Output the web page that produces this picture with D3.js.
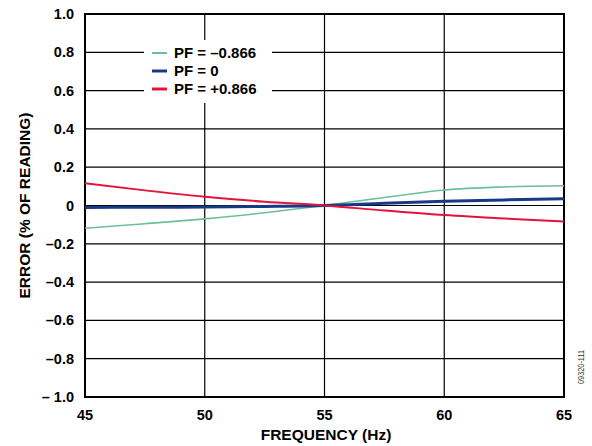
<!DOCTYPE html>
<html><head><meta charset="utf-8">
<script src="https://cdn.jsdelivr.net/npm/d3@7"></script>
<style>body{margin:0;background:#fff}svg{display:block}text{font-family:"Liberation Sans",Arial,sans-serif}</style>
</head><body><svg id="c" width="592" height="446"></svg>
<script>
const freq = [45, 47.5, 50, 52.5, 55, 57.5, 60, 62.5, 65];
const pfNeg = [-0.119, -0.095, -0.07, -0.038, 0, 0.042, 0.081, 0.097, 0.103];
const pfZero = [-0.01, -0.009, -0.008, -0.005, 0, 0.012, 0.022, 0.029, 0.035];
const pfPos = [0.116, 0.079, 0.046, 0.02, 0, -0.026, -0.05, -0.068, -0.083];
const yTicks = [1.0, 0.8, 0.6, 0.4, 0.2, 0, -0.2, -0.4, -0.6, -0.8, -1.0];
const yLabels = ["1.0","0.8","0.6","0.4","0.2","0","–0.2","–0.4","–0.6","–0.8","– 1.0"];
const xTicks = [45, 50, 55, 60, 65];
const series = [
  {name:"PF = –0.866", values:pfNeg, color:"#6cbf98", w:1.6},
  {name:"PF = 0", values:pfZero, color:"#173a86", w:3},
  {name:"PF = +0.866", values:pfPos, color:"#e2143c", w:2}
];
const svg = d3.select("#c");
const L=85, R=564, T=14, B=397;
const x = d3.scaleLinear().domain([45,65]).range([L,R]);
const y = d3.scaleLinear().domain([-1,1]).range([B,T]);
const g = svg.append("g");
g.selectAll(".hg").data(yTicks).join("line").attr("x1",L).attr("x2",R)
 .attr("y1",d=>y(d)).attr("y2",d=>y(d)).attr("stroke","#000").attr("stroke-width",1.2);
g.selectAll(".vg").data(xTicks).join("line").attr("y1",T).attr("y2",B)
 .attr("x1",d=>x(d)).attr("x2",d=>x(d)).attr("stroke","#000").attr("stroke-width",1.2);
g.append("rect").attr("x",L).attr("y",T).attr("width",R-L).attr("height",B-T)
 .attr("fill","none").attr("stroke","#000").attr("stroke-width",2);
const line = d3.line().x((d,i)=>x(freq[i])).y(d=>y(d)).curve(d3.curveMonotoneX);
series.forEach(s=>{
  g.append("path").attr("d",line(s.values)).attr("fill","none")
   .attr("stroke",s.color).attr("stroke-width",s.w);
});
const lg = svg.append("g");
lg.append("rect").attr("x",144).attr("y",40).attr("width",128).attr("height",63).attr("fill","#fff");
series.forEach((s,i)=>{
  const yy = [53,71,89][i];
  lg.append("line").attr("x1",152).attr("x2",167).attr("y1",yy).attr("y2",yy)
    .attr("stroke",s.color).attr("stroke-width",s.w===1.6?2:3);
  lg.append("text").attr("x",174).attr("y",yy+5).attr("font-size",15).attr("font-weight","bold").text(s.name);
});
svg.selectAll(".yl").data(yTicks).join("text").attr("x",74).attr("y",d=>y(d)+5)
 .attr("text-anchor","end").attr("font-size",14.5).attr("font-weight","bold").text((d,i)=>yLabels[i]);
svg.selectAll(".xl").data(xTicks).join("text").attr("x",d=>x(d)).attr("y",420)
 .attr("text-anchor","middle").attr("font-size",14.5).attr("font-weight","bold").text(d=>d);
svg.append("text").attr("x",326).attr("y",440).attr("text-anchor","middle")
 .attr("font-size",15.5).attr("font-weight","bold").text("FREQUENCY (Hz)");
svg.append("text").attr("transform",`translate(30,${(T+B)/2}) rotate(-90)`).attr("text-anchor","middle")
 .attr("font-size",15.5).attr("font-weight","bold").text("ERROR (% OF READING)");
svg.append("text").attr("transform",`translate(584,367) rotate(-90)`).attr("text-anchor","middle")
 .attr("font-size",9.5).attr("fill","#333").attr("textLength",34).attr("lengthAdjust","spacingAndGlyphs").text("09320-111");
</script></body></html>
